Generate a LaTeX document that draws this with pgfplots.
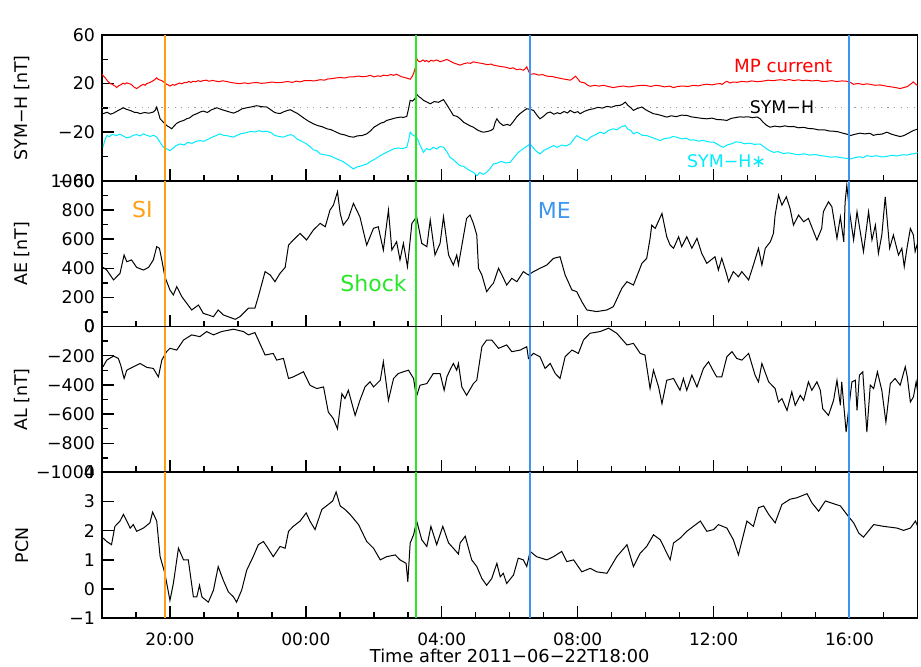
\documentclass[border=0pt]{standalone}
\usepackage{pgfplots}
\pgfplotsset{compat=1.18}
\usepackage{fontspec}
\setmainfont{DejaVu Sans}

\definecolor{siorange}{RGB}{255,160,20}
\definecolor{shockgreen}{RGB}{40,230,40}
\definecolor{meblue}{RGB}{60,150,240}
\definecolor{mpred}{RGB}{255,0,0}
\definecolor{symcyan}{RGB}{0,235,255}

% event times in hours after 2011-06-22T18:00
\def\tSI{1.86}
\def\tShock{9.24}
\def\tME{12.59}
\def\tEnd{21.99}

\pgfplotsset{
  panel/.style={
    scale only axis,
    width=407.75pt, height=72.9pt,
    anchor=north west,
    xmin=0, xmax=24,
    xtick={2,6,10,14,18,22},
    minor xtick={1,3,4,5,7,8,9,11,12,13,15,16,17,19,20,21,23},
    xticklabels={},
    xtick pos=bottom, ytick pos=left,
    tick align=inside,
    major tick length=6pt, minor tick length=3pt,
    axis line style={line width=0.9pt},
    tick style={black, line width=0.7pt},
    yticklabel style={font=\fontsize{8.7}{10}\selectfont},
    xticklabel style={font=\fontsize{8.5}{10}\selectfont, yshift=-4pt},
    every axis y label/.style={at={(axis description cs:-0.098,0.5)}, rotate=90, anchor=center, font=\fontsize{8.7}{10}\selectfont},
  },
  data/.style={black, line width=0.5pt},
  vline/.style={line width=0.9pt},
}

\begin{document}
\begin{tikzpicture}
\path[use as bounding box] (0,0) rectangle (460.5pt,333.5pt);

% ---------------- SYM-H panel ----------------
\begin{axis}[panel, at={(51pt,316pt)},
  ymin=-60, ymax=60,
  ytick={-60,-20,20,60}, yticklabels={−60,−20,20,60},
  minor ytick={-40,0,40},
  ylabel={SYM−H [nT]}]
\addplot[gray!80, line width=0.5pt, dash pattern=on 0.6pt off 2.7pt] coordinates {(0,0) (24,0)};
% magnetopause current contribution
\addplot[mpred, line width=0.5pt] coordinates {
(0.00,27.7) (0.05,26.0) (0.10,24.5) (0.17,22.0) (0.24,20.0) (0.30,19.5) (0.35,18.5) (0.40,17.8)
(0.43,16.7) (0.49,18.2) (0.55,19.0) (0.62,20.3) (0.68,19.6) (0.73,20.6) (0.79,20.0) (0.85,19.5)
(0.90,18.3) (0.95,17.0) (1.02,15.9) (1.08,17.0) (1.15,18.5) (1.22,19.3) (1.27,18.6) (1.32,20.0)
(1.38,20.6) (1.45,21.5) (1.52,22.6) (1.58,24.0) (1.61,24.7) (1.66,23.4) (1.70,23.0) (1.76,22.4)
(1.81,21.4) (1.86,20.4) (1.90,19.5) (1.95,18.9) (2.00,18.0) (2.08,19.2) (2.14,18.6) (2.20,19.5)
(2.28,20.5) (2.35,19.8) (2.42,20.9) (2.49,20.8) (2.56,21.8) (2.62,20.9) (2.68,21.9) (2.75,21.5)
(2.83,22.4) (2.90,21.7) (2.98,22.5) (3.08,22.8) (3.15,21.9) (3.25,22.6) (3.35,22.0) (3.45,21.6)
(3.55,22.3) (3.67,21.7) (3.78,21.0) (3.90,20.4) (4.06,20.0) (4.20,20.6) (4.30,20.0) (4.40,20.5)
(4.55,20.9) (4.70,20.2) (4.85,20.6) (5.00,21.3) (5.15,20.7) (5.30,21.0) (5.45,21.7) (5.60,21.0)
(5.72,22.0) (5.83,21.4) (5.95,22.4) (6.10,22.5) (6.25,22.2) (6.42,23.2) (6.55,22.8) (6.65,23.9)
(6.75,24.0) (6.88,24.6) (7.01,25.0) (7.15,24.6) (7.28,25.6) (7.40,25.5) (7.55,26.2) (7.68,25.6)
(7.79,26.0) (7.90,26.8) (8.00,25.5) (8.12,26.4) (8.20,25.9) (8.28,26.9) (8.40,26.5) (8.50,27.5)
(8.58,26.8) (8.67,27.7) (8.75,26.5) (8.82,25.6) (8.90,25.0) (8.98,24.4) (9.07,23.6) (9.12,25.5)
(9.17,28.3) (9.22,33.0) (9.26,40.7) (9.31,38.5) (9.36,37.9) (9.45,39.5) (9.50,38.2) (9.55,39.0)
(9.62,37.8) (9.68,39.2) (9.75,38.5) (9.85,39.4) (9.95,38.0) (10.05,38.9) (10.15,39.9) (10.25,38.4)
(10.35,37.0) (10.45,36.0) (10.54,35.2) (10.65,36.4) (10.75,37.0) (10.85,36.7) (10.93,37.9) (11.05,37.2)
(11.20,36.5) (11.35,35.5) (11.45,36.1) (11.52,35.2) (11.63,34.6) (11.75,34.0) (11.88,33.5) (12.01,32.4)
(12.10,33.0) (12.20,31.5) (12.30,31.9) (12.40,31.0) (12.45,32.0) (12.50,33.8) (12.55,30.5) (12.60,27.7)
(12.72,28.1) (12.85,27.0) (12.97,27.4) (13.09,26.1) (13.25,25.8) (13.45,24.5) (13.60,23.7) (13.78,22.8)
(13.85,24.0) (13.93,26.1) (14.00,24.0) (14.07,21.4) (14.20,20.6) (14.30,18.5) (14.37,17.8) (14.50,18.6)
(14.62,17.9) (14.76,18.6) (14.90,17.6) (15.05,16.7) (15.20,17.5) (15.35,18.0) (15.50,17.2) (15.64,17.8)
(15.80,18.4) (16.00,18.5) (16.15,17.6) (16.30,18.6) (16.43,18.1) (16.55,17.3) (16.70,17.9) (16.82,16.7)
(16.95,17.7) (17.10,18.0) (17.25,17.6) (17.41,18.6) (17.55,18.1) (17.68,19.0) (17.80,19.5) (17.95,18.9)
(18.08,19.7) (18.19,20.0) (18.25,19.3) (18.33,21.0) (18.39,21.9) (18.48,20.5) (18.58,21.3) (18.70,21.0)
(18.82,21.8) (18.98,21.4) (19.12,22.2) (19.28,21.6) (19.45,22.0) (19.60,22.8) (19.75,22.4) (19.96,23.2)
(20.10,22.6) (20.22,23.3) (20.35,22.5) (20.50,23.1) (20.62,22.4) (20.74,22.8) (20.90,22.2) (21.05,22.6)
(21.20,21.8) (21.33,21.9) (21.48,22.4) (21.62,21.7) (21.78,22.2) (21.92,21.9) (22.02,21.0) (22.12,19.4)
(22.25,20.1) (22.40,19.2) (22.50,19.8) (22.61,19.4) (22.75,18.6) (22.90,18.9) (23.10,17.8) (23.25,17.2)
(23.38,16.6) (23.49,15.9) (23.60,16.8) (23.70,17.5) (23.80,19.6) (23.88,21.4) (23.95,19.4) (24.00,18.6)};
% SYM-H
\addplot[data] coordinates {
(0.03,-4.8) (0.15,-3.6) (0.25,-5.2) (0.34,-4.3) (0.45,-2.5) (0.55,-1.0) (0.63,0.1) (0.72,-1.2)
(0.83,-2.1) (0.95,-3.6) (1.05,-3.9) (1.12,-4.8) (1.25,-3.8) (1.38,-4.4) (1.51,-3.4) (1.57,-1.8)
(1.61,0.7) (1.66,-4.0) (1.71,-9.0) (1.80,-11.6) (1.90,-14.5) (1.98,-15.8) (2.05,-17.2) (2.12,-15.0)
(2.20,-12.6) (2.30,-11.2) (2.40,-10.4) (2.49,-9.0) (2.58,-8.2) (2.68,-6.0) (2.79,-4.8) (2.88,-3.5)
(2.98,-2.6) (3.10,-3.8) (3.22,-1.6) (3.38,0.1) (3.50,-1.2) (3.65,-2.5) (3.78,-3.6) (3.87,-4.3)
(4.00,-2.8) (4.12,-0.8) (4.26,0.1) (4.40,0.8) (4.55,1.8) (4.70,1.0) (4.85,0.7) (4.97,-1.6)
(5.06,-3.4) (5.14,-4.3) (5.25,-4.6) (5.35,-3.2) (5.45,-2.2) (5.54,-1.5) (5.66,-3.3) (5.75,-4.6)
(5.83,-6.2) (5.95,-8.6) (6.08,-11.0) (6.22,-13.1) (6.35,-14.6) (6.48,-15.5) (6.62,-17.2) (6.75,-18.0)
(6.88,-19.8) (7.01,-21.4) (7.15,-22.3) (7.28,-23.6) (7.40,-24.1) (7.52,-23.0) (7.65,-22.8) (7.79,-21.4)
(7.90,-19.0) (8.00,-16.0) (8.09,-14.5) (8.20,-12.6) (8.30,-11.8) (8.38,-10.3) (8.50,-9.4) (8.62,-8.4)
(8.77,-7.6) (8.88,-7.8) (8.97,-7.0) (9.02,-1.0) (9.07,6.2) (9.14,5.6) (9.21,7.6) (9.26,11.2)
(9.32,9.4) (9.39,8.0) (9.46,6.2) (9.55,5.0) (9.66,3.4) (9.78,5.2) (9.90,4.6) (10.05,6.8)
(10.15,2.5) (10.25,-2.0) (10.34,-6.2) (10.45,-7.0) (10.54,-9.0) (10.65,-12.0) (10.75,-13.5) (10.85,-15.0)
(10.93,-15.9) (11.05,-18.2) (11.15,-19.5) (11.23,-20.0) (11.35,-19.4) (11.45,-18.5) (11.52,-17.2) (11.57,-12.0)
(11.62,-9.0) (11.70,-12.2) (11.81,-14.5) (11.92,-13.6) (12.01,-14.5) (12.10,-11.5) (12.20,-7.6) (12.30,-4.8)
(12.40,-2.6) (12.50,-0.7) (12.60,-1.2) (12.70,-2.1) (12.80,-6.0) (12.89,-9.0) (13.00,-6.8) (13.10,-4.2)
(13.19,-3.4) (13.30,-5.2) (13.40,-4.0) (13.48,-4.8) (13.60,-3.0) (13.70,-4.2) (13.78,-2.1) (13.90,-4.0)
(14.00,-3.1) (14.07,-4.8) (14.20,-2.8) (14.33,-1.5) (14.47,-0.7) (14.60,0.5) (14.72,-0.2) (14.86,1.2)
(15.00,0.6) (15.12,1.8) (15.25,2.1) (15.33,3.2) (15.40,4.8) (15.48,2.0) (15.56,0.2) (15.64,-2.1)
(15.75,-0.5) (15.89,0.7) (16.00,-1.5) (16.10,-3.0) (16.23,-4.8) (16.35,-5.4) (16.48,-6.4) (16.62,-7.6)
(16.75,-6.5) (16.90,-7.2) (17.05,-6.0) (17.21,-6.2) (17.35,-7.4) (17.50,-8.0) (17.65,-8.6) (17.80,-9.0)
(17.95,-8.4) (18.10,-9.6) (18.25,-9.8) (18.39,-10.3) (18.52,-8.6) (18.65,-8.0) (18.76,-7.4) (18.88,-7.6)
(19.00,-7.3) (19.15,-8.0) (19.28,-7.5) (19.37,-9.0) (19.45,-11.6) (19.55,-14.2) (19.66,-15.9) (19.80,-15.0)
(19.95,-15.6) (20.10,-14.8) (20.22,-15.5) (20.35,-15.3) (20.50,-16.4) (20.65,-16.0) (20.80,-17.0) (20.94,-17.2)
(21.10,-18.2) (21.25,-18.0) (21.40,-19.0) (21.53,-19.2) (21.65,-19.6) (21.80,-20.8) (21.92,-21.6) (22.02,-22.8)
(22.15,-21.8) (22.31,-20.8) (22.45,-21.4) (22.60,-20.9) (22.70,-22.6) (22.81,-21.9) (22.95,-21.6) (23.10,-20.0)
(23.22,-21.5) (23.35,-22.6) (23.49,-23.6) (23.60,-22.8) (23.72,-21.0) (23.88,-18.6) (24.03,-17.2)};
% SYM-H corrected
\addplot[symcyan, line width=0.5pt] coordinates {
(0.03,-32.4) (0.08,-27.0) (0.14,-22.8) (0.22,-23.6) (0.30,-21.8) (0.43,-22.8) (0.52,-21.6) (0.62,-23.0)
(0.72,-24.6) (0.83,-24.1) (0.92,-22.5) (1.02,-22.0) (1.12,-23.0) (1.22,-21.4) (1.32,-22.6) (1.42,-23.5)
(1.52,-22.5) (1.61,-24.1) (1.70,-28.0) (1.81,-32.4) (1.90,-33.6) (2.00,-35.2) (2.08,-33.5) (2.18,-31.0)
(2.30,-29.7) (2.42,-30.6) (2.52,-28.4) (2.65,-29.2) (2.76,-27.6) (2.88,-26.9) (3.00,-27.5) (3.12,-25.8)
(3.25,-24.0) (3.36,-22.8) (3.47,-21.4) (3.58,-22.6) (3.70,-23.0) (3.87,-24.1) (3.98,-22.4) (4.10,-21.2)
(4.22,-20.6) (4.36,-19.4) (4.50,-19.8) (4.62,-18.8) (4.75,-19.6) (4.85,-19.2) (4.98,-20.5) (5.08,-22.6)
(5.20,-23.5) (5.34,-24.1) (5.45,-22.8) (5.55,-22.0) (5.63,-22.8) (5.75,-25.8) (5.88,-27.5) (6.02,-29.7)
(6.12,-31.8) (6.22,-34.5) (6.32,-35.2) (6.42,-37.9) (6.55,-38.6) (6.68,-39.2) (6.81,-40.7) (6.95,-42.5)
(7.08,-44.0) (7.20,-46.2) (7.30,-48.3) (7.40,-50.3) (7.50,-48.6) (7.62,-47.8) (7.79,-46.2) (7.90,-44.2)
(8.05,-41.8) (8.19,-39.3) (8.30,-37.6) (8.45,-35.5) (8.58,-33.8) (8.70,-33.0) (8.85,-33.5) (8.97,-32.4)
(9.02,-27.0) (9.07,-20.0) (9.15,-22.5) (9.26,-24.1) (9.35,-30.0) (9.46,-36.6) (9.55,-33.5) (9.65,-34.6)
(9.75,-32.4) (9.85,-33.8) (9.95,-31.8) (10.05,-32.4) (10.15,-36.0) (10.24,-40.7) (10.35,-42.8) (10.45,-45.5)
(10.54,-47.6) (10.65,-48.2) (10.75,-50.3) (10.83,-51.7) (10.93,-53.0) (11.03,-55.9) (11.12,-53.2) (11.22,-54.6)
(11.32,-53.1) (11.42,-50.0) (11.52,-46.2) (11.62,-45.6) (11.75,-44.0) (11.88,-45.3) (12.01,-44.8) (12.12,-41.0)
(12.25,-36.6) (12.35,-34.6) (12.48,-32.0) (12.60,-29.7) (12.68,-32.5) (12.78,-35.6) (12.89,-37.9) (13.00,-35.0)
(13.15,-33.0) (13.29,-31.0) (13.40,-32.5) (13.52,-30.6) (13.65,-31.4) (13.78,-29.7) (13.88,-26.0) (13.97,-22.8)
(14.08,-24.6) (14.17,-25.8) (14.27,-26.9) (14.38,-24.0) (14.50,-22.4) (14.66,-20.0) (14.78,-21.2) (14.90,-18.6)
(15.05,-17.2) (15.15,-18.0) (15.28,-15.6) (15.40,-14.5) (15.48,-17.6) (15.56,-18.5) (15.64,-21.4) (15.75,-20.0)
(15.90,-22.6) (16.03,-22.8) (16.15,-24.0) (16.30,-25.6) (16.43,-26.9) (16.55,-25.2) (16.70,-24.8) (16.80,-23.6)
(16.92,-24.1) (17.05,-25.5) (17.20,-25.0) (17.30,-26.5) (17.41,-26.3) (17.55,-27.3) (17.70,-26.8) (17.85,-28.0)
(18.00,-28.3) (18.10,-29.6) (18.20,-31.5) (18.29,-32.4) (18.40,-30.5) (18.55,-29.4) (18.65,-28.0) (18.78,-28.3)
(18.92,-29.6) (19.05,-29.0) (19.20,-30.0) (19.37,-29.7) (19.48,-32.0) (19.60,-34.5) (19.76,-36.6) (19.90,-36.0)
(20.05,-37.6) (20.20,-37.0) (20.35,-37.9) (20.50,-38.6) (20.65,-37.8) (20.82,-38.8) (21.00,-38.4) (21.14,-39.3)
(21.30,-39.8) (21.45,-40.6) (21.60,-40.2) (21.75,-41.0) (21.88,-41.4) (22.02,-42.1) (22.15,-41.0) (22.30,-40.2)
(22.40,-41.0) (22.51,-39.3) (22.65,-40.0) (22.80,-39.4) (22.95,-40.4) (23.10,-39.9) (23.25,-39.0) (23.40,-39.6)
(23.55,-38.6) (23.69,-38.8) (23.82,-38.0) (23.92,-37.6) (24.03,-36.6)};
\addplot[siorange, vline] coordinates {(\tSI,-60) (\tSI,60)};
\addplot[shockgreen, vline] coordinates {(\tShock,-60) (\tShock,60)};
\addplot[meblue, vline] coordinates {(\tME,-60) (\tME,60)};
\addplot[meblue, vline] coordinates {(\tEnd,-60) (\tEnd,60)};
\node[mpred, anchor=base, font=\fontsize{9.1}{10}\selectfont] at (axis cs:20.05,28.8) {MP current};
\node[black, anchor=base, font=\fontsize{8.7}{10}\selectfont] at (axis cs:20.01,-4.3) {SYM−H};
\node[symcyan, anchor=base, font=\fontsize{8.7}{10}\selectfont] at (axis cs:18.38,-49.0) {SYM−H∗};
\node[anchor=base, font=\fontsize{11}{13}\selectfont] at (rel axis cs:0.4856,1) [yshift=4.5pt] {Geomagnetic Indices: OMNI};
\node[anchor=base, font=\fontsize{8}{10}\selectfont] at (rel axis cs:0.965,1) [yshift=0.8pt] {GSM};
\end{axis}

% ---------------- AE panel ----------------
\begin{axis}[panel, at={(51pt,243.1pt)},
  ymin=0, ymax=1000,
  ytick={0,200,400,600,800,1000},
  yticklabels={0,200,400,600,800,1000},
  minor ytick={100,300,500,700,900},
  ylabel={AE [nT]}]
\addplot[data] coordinates {
(0.03,406) (0.14,388) (0.34,320) (0.53,365) (0.65,491) (0.73,445) (0.87,457) (1.02,406)
(1.22,388) (1.37,406) (1.51,457) (1.61,548) (1.69,537) (1.76,457) (1.85,342) (2.00,251)
(2.10,217) (2.20,274) (2.35,205) (2.64,114) (2.84,148) (2.98,91) (3.28,68) (3.42,114)
(3.57,80) (3.92,50) (4.06,68) (4.31,126) (4.50,126) (4.60,205) (4.80,377) (4.95,354)
(5.09,308) (5.24,365) (5.39,406) (5.49,559) (5.63,594) (5.83,639) (6.02,594) (6.22,662)
(6.42,708) (6.57,685) (6.71,799) (6.81,833) (6.93,925) (7.01,776) (7.10,696) (7.25,742)
(7.40,845) (7.59,753) (7.79,559) (7.99,674) (8.13,685) (8.28,525) (8.43,799) (8.53,525)
(8.67,582) (8.77,457) (8.87,571) (8.99,411) (9.12,708) (9.26,753) (9.41,571) (9.56,548)
(9.66,731) (9.80,491) (9.95,571) (10.05,753) (10.20,491) (10.34,422) (10.44,491) (10.49,422)
(10.73,742) (10.83,765) (10.93,708) (11.03,628) (11.08,400) (11.18,354) (11.32,240) (11.47,285)
(11.52,297) (11.67,400) (11.77,354) (11.91,285) (12.06,331) (12.21,308) (12.40,377) (12.55,354)
(12.70,377) (12.89,400) (13.09,422) (13.29,468) (13.48,479) (13.63,354) (13.83,251) (13.97,240)
(14.12,171) (14.27,114) (14.56,103) (14.86,114) (15.05,137) (15.30,263) (15.45,308) (15.64,285)
(15.89,434) (16.03,468) (16.13,605) (16.18,696) (16.28,673) (16.48,776) (16.62,616) (16.72,559)
(16.82,537) (16.97,616) (17.06,548) (17.21,616) (17.36,537) (17.51,605) (17.65,502) (17.80,434)
(18.04,479) (18.14,388) (18.24,468) (18.39,354) (18.44,308) (18.58,377) (18.73,342) (18.83,377)
(19.03,320) (19.17,422) (19.32,537) (19.42,422) (19.52,537) (19.67,582) (19.76,639) (19.81,765)
(19.91,902) (20.01,833) (20.14,890) (20.25,810) (20.35,696) (20.50,765) (20.65,719) (20.79,742)
(21.04,594) (21.18,673) (21.23,788) (21.38,856) (21.48,822) (21.63,605) (21.73,753) (21.83,582)
(21.87,856) (21.92,970) (22.00,788) (22.12,594) (22.22,788) (22.41,514) (22.51,696) (22.56,788)
(22.66,594) (22.76,696) (22.85,502) (22.95,628) (23.05,890) (23.18,537) (23.29,628) (23.44,491)
(23.54,537) (23.61,411) (23.69,537) (23.79,673) (23.88,628) (23.93,514) (24.03,594)};
\addplot[siorange, vline] coordinates {(\tSI,0) (\tSI,1000)};
\addplot[shockgreen, vline] coordinates {(\tShock,0) (\tShock,1000)};
\addplot[meblue, vline] coordinates {(\tME,0) (\tME,1000)};
\addplot[meblue, vline] coordinates {(\tEnd,0) (\tEnd,1000)};
\node[siorange, anchor=base, font=\fontsize{11}{13}\selectfont] at (axis cs:1.19,747) {SI};
\node[shockgreen, anchor=base, font=\fontsize{11}{13}\selectfont] at (axis cs:7.99,244) {Shock};
\node[meblue, anchor=base, font=\fontsize{11}{13}\selectfont] at (axis cs:13.31,742) {ME};
\end{axis}

% ---------------- AL panel ----------------
\begin{axis}[panel, at={(51pt,170.2pt)},
  ymin=-1000, ymax=0,
  ytick={-1000,-800,-600,-400,-200,0},
  yticklabels={−1000,−800,−600,−400,−200,0},
  minor ytick={-900,-700,-500,-300,-100},
  ylabel={AL [nT]}]
\addplot[data] coordinates {
(0.03,-276) (0.14,-230) (0.34,-202) (0.48,-218) (0.55,-264) (0.65,-356) (0.73,-299) (0.92,-276)
(1.12,-253) (1.32,-280) (1.51,-287) (1.66,-345) (1.76,-230) (1.90,-172) (2.00,-149) (2.20,-161)
(2.40,-92) (2.64,-57) (2.88,-69) (3.08,-34) (3.28,-57) (3.52,-34) (3.87,-18) (4.16,-34)
(4.31,-57) (4.50,-41) (4.60,-92) (4.80,-195) (5.04,-184) (5.14,-230) (5.34,-218) (5.49,-356)
(5.63,-345) (5.93,-310) (6.12,-402) (6.32,-425) (6.52,-414) (6.66,-586) (6.81,-632) (6.93,-701)
(7.06,-460) (7.15,-494) (7.25,-437) (7.45,-609) (7.59,-506) (7.74,-414) (7.89,-379) (7.99,-414)
(8.19,-368) (8.28,-241) (8.43,-506) (8.58,-356) (8.72,-322) (8.87,-310) (9.02,-299) (9.17,-356)
(9.25,-483) (9.36,-402) (9.56,-391) (9.75,-322) (9.95,-322) (10.07,-437) (10.15,-345) (10.24,-299)
(10.34,-253) (10.44,-299) (10.49,-253) (10.59,-414) (10.73,-471) (10.93,-391) (11.03,-368) (11.18,-138)
(11.32,-92) (11.47,-92) (11.67,-149) (11.91,-126) (12.06,-172) (12.31,-161) (12.50,-138) (12.55,-218)
(12.70,-184) (12.89,-207) (13.04,-287) (13.19,-253) (13.34,-322) (13.48,-356) (13.63,-207) (13.83,-161)
(14.02,-184) (14.17,-92) (14.36,-46) (14.66,-34) (14.91,-11) (15.15,-46) (15.45,-126) (15.64,-115)
(15.84,-184) (15.98,-195) (16.13,-425) (16.23,-299) (16.38,-414) (16.48,-529) (16.62,-368) (16.82,-356)
(17.01,-437) (17.11,-356) (17.21,-437) (17.36,-333) (17.51,-414) (17.70,-287) (17.85,-241) (17.95,-287)
(18.09,-345) (18.24,-345) (18.39,-207) (18.54,-172) (18.68,-218) (18.83,-230) (19.03,-184) (19.22,-333)
(19.32,-379) (19.42,-253) (19.62,-379) (19.81,-425) (19.91,-517) (20.01,-494) (20.16,-575) (20.30,-448)
(20.40,-540) (20.55,-471) (20.65,-506) (20.79,-379) (20.89,-437) (21.04,-379) (21.14,-437) (21.21,-563)
(21.38,-609) (21.53,-506) (21.63,-368) (21.73,-540) (21.77,-379) (21.90,-724) (21.97,-575) (22.07,-379)
(22.17,-368) (22.22,-575) (22.29,-333) (22.39,-310) (22.51,-724) (22.61,-402) (22.71,-425) (22.82,-310)
(22.95,-437) (23.07,-655) (23.20,-391) (23.34,-356) (23.49,-402) (23.64,-276) (23.70,-345) (23.79,-517)
(23.88,-483) (23.96,-379) (24.03,-483)};
\addplot[siorange, vline] coordinates {(\tSI,-1000) (\tSI,0)};
\addplot[shockgreen, vline] coordinates {(\tShock,-1000) (\tShock,0)};
\addplot[meblue, vline] coordinates {(\tME,-1000) (\tME,0)};
\addplot[meblue, vline] coordinates {(\tEnd,-1000) (\tEnd,0)};
\end{axis}

% ---------------- PCN panel ----------------
\begin{axis}[panel, at={(51pt,97.3pt)},
  ymin=-1, ymax=4,
  ytick={-1,0,1,2,3,4}, yticklabels={−1,0,1,2,3,4},
  xticklabels={20:00,00:00,04:00,08:00,12:00,16:00},
  ylabel={PCN},
  xlabel={Time after 2011−06−22T18:00},
  xlabel style={at={(axis description cs:0.5,0)}, anchor=base, yshift=-22.4pt, font=\fontsize{8.9}{10}\selectfont}]
\addplot[data] coordinates {
(0.03,1.75) (0.14,1.63) (0.28,1.52) (0.38,2.15) (0.53,2.33) (0.63,2.56) (0.73,2.33) (0.83,2.09)
(0.92,2.21) (1.02,1.98) (1.22,2.09) (1.41,2.27) (1.49,2.64) (1.61,2.33) (1.71,1.11) (1.85,0.54)
(2.00,-0.39) (2.10,0.19) (2.25,1.40) (2.40,1.00) (2.54,1.00) (2.69,-0.27) (2.79,-0.27) (2.87,0.13)
(2.94,-0.27) (3.13,-0.45) (3.28,-0.04) (3.42,0.77) (3.57,0.30) (3.72,-0.10) (3.87,-0.27) (3.96,-0.45)
(4.11,-0.04) (4.26,0.65) (4.45,1.11) (4.60,1.52) (4.75,1.63) (4.85,1.46) (5.04,1.11) (5.24,1.46)
(5.39,1.40) (5.49,1.98) (5.63,2.15) (5.83,2.33) (6.01,2.61) (6.12,2.33) (6.27,2.04) (6.47,2.73)
(6.66,2.90) (6.79,3.02) (6.89,3.33) (7.01,2.85) (7.15,2.73) (7.30,2.56) (7.55,2.21) (7.79,1.63)
(7.99,1.40) (8.19,1.00) (8.38,1.11) (8.63,1.17) (8.77,1.00) (8.95,0.88) (9.00,0.25) (9.07,1.58)
(9.17,1.86) (9.26,2.33) (9.41,1.69) (9.56,1.46) (9.68,2.15) (9.85,1.52) (10.03,2.15) (10.20,1.58)
(10.34,1.40) (10.49,1.20) (10.54,1.58) (10.69,1.81) (10.88,1.00) (11.03,0.77) (11.18,0.36) (11.32,0.13)
(11.47,0.36) (11.62,0.88) (11.72,0.42) (11.81,0.54) (11.91,0.19) (12.11,0.48) (12.25,1.06) (12.40,1.00)
(12.50,0.77) (12.60,1.29) (12.79,1.11) (13.09,1.00) (13.29,1.11) (13.53,1.29) (13.68,0.94) (13.88,1.00)
(14.12,0.59) (14.37,0.71) (14.56,0.59) (14.86,0.54) (15.15,1.11) (15.45,1.52) (15.64,0.77) (15.84,1.23)
(16.03,1.46) (16.23,1.86) (16.43,1.69) (16.72,1.00) (16.82,1.58) (17.02,1.75) (17.21,1.98) (17.61,2.33)
(17.80,1.98) (18.00,2.04) (18.14,2.21) (18.39,2.09) (18.58,1.69) (18.73,1.17) (18.98,2.33) (19.17,2.15)
(19.32,2.79) (19.47,2.85) (19.62,2.56) (19.81,2.27) (20.01,2.90) (20.25,3.08) (20.45,3.13) (20.75,3.27)
(20.89,2.96) (21.09,2.67) (21.29,3.02) (21.73,2.85) (21.92,2.56) (22.12,2.27) (22.27,1.92) (22.41,1.78)
(22.71,2.21) (23.00,2.15) (23.40,2.09) (23.59,2.01) (23.79,2.09) (23.94,2.33) (24.03,2.09)};
\addplot[siorange, vline] coordinates {(\tSI,-1) (\tSI,4)};
\addplot[shockgreen, vline] coordinates {(\tShock,-1) (\tShock,4)};
\addplot[meblue, vline] coordinates {(\tME,-1) (\tME,4)};
\addplot[meblue, vline] coordinates {(\tEnd,-1) (\tEnd,4)};
\end{axis}
\end{tikzpicture}
\end{document}
